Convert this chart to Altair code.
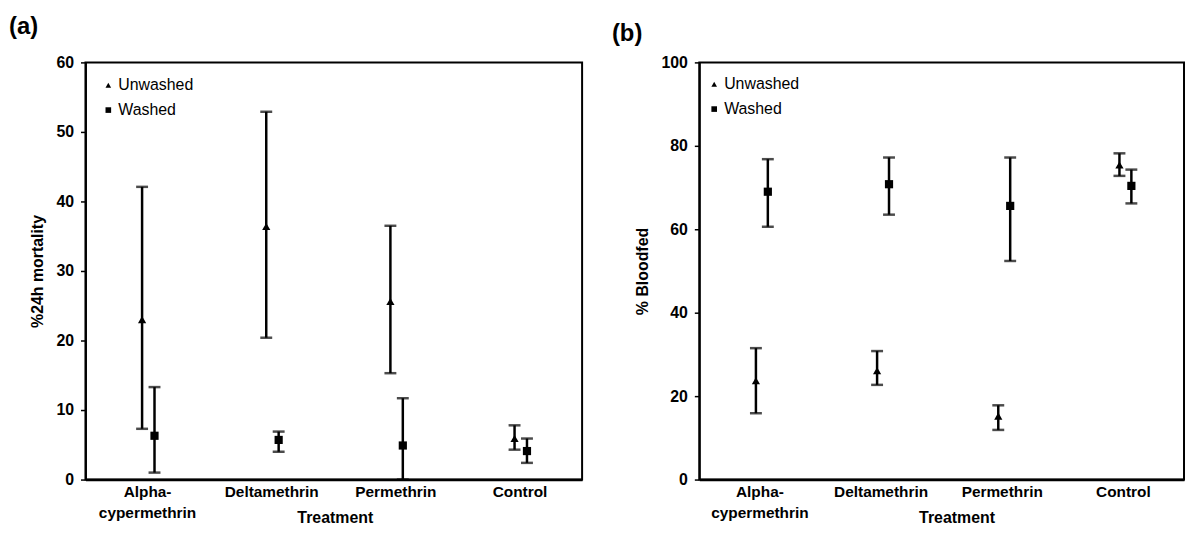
import altair as alt
import pandas as pd

categories = ["Alpha-cypermethrin", "Deltamethrin", "Permethrin", "Control"]
groups = ["Unwashed", "Washed"]

# Panel (a): % 24h mortality
mort_unwashed_mean = [23.0, 36.4, 25.6, 5.9]
mort_unwashed_low = [7.3, 20.4, 15.3, 4.3]
mort_unwashed_high = [42.1, 52.9, 36.5, 7.8]
mort_washed_mean = [6.3, 5.7, 4.9, 4.1]
mort_washed_low = [1.0, 4.0, 0.0, 2.4]
mort_washed_high = [13.3, 6.9, 11.7, 5.9]

# Panel (b): % bloodfed
blood_unwashed_mean = [23.7, 26.1, 15.2, 75.4]
blood_unwashed_low = [15.9, 22.7, 11.9, 72.8]
blood_unwashed_high = [31.5, 30.8, 17.8, 78.2]
blood_washed_mean = [69.0, 70.8, 65.6, 70.4]
blood_washed_low = [60.6, 63.5, 52.4, 66.2]
blood_washed_high = [76.8, 77.2, 77.2, 74.3]

FONT = "Liberation Sans"


def make_df(u_mean, u_low, u_high, w_mean, w_low, w_high):
    rows = []
    for i, c in enumerate(categories):
        rows.append({"treatment": c, "group": "Unwashed", "mean": u_mean[i], "low": u_low[i], "high": u_high[i]})
        rows.append({"treatment": c, "group": "Washed", "mean": w_mean[i], "low": w_low[i], "high": w_high[i]})
    return pd.DataFrame(rows)


def panel(df, ymax, ystep, ytitle, label, width, height, title_dx, title_offset,
          ytitle_x, xtitle_x, xtitle_y, legend_x, legend_y, off_range):
    x = alt.X("treatment:N", sort=categories,
              scale=alt.Scale(paddingInner=0, paddingOuter=0),
              axis=alt.Axis(title="Treatment", labelAngle=0, ticks=False,
                            labelFont=FONT, labelFontSize=15.5, labelFontWeight="bold",
                            labelColor="black", labelPadding=5, labelBaseline="top",
                            labelLineHeight=21,
                            labelExpr="datum.label == 'Alpha-cypermethrin' ? ['Alpha-', 'cypermethrin'] : datum.label",
                            titleFont=FONT, titleFontSize=16, titleFontWeight="bold",
                            titleColor="black", titleX=xtitle_x, titleY=xtitle_y,
                            titleBaseline="alphabetic",
                            domainColor="black", domainWidth=2.5))
    xo = alt.XOffset("group:N", sort=groups,
                     scale=alt.Scale(type="point", range=off_range, padding=0))
    yscale = alt.Scale(domain=[0, ymax], nice=False)
    yaxis = alt.Axis(title=ytitle, values=list(range(0, ymax + 1, ystep)), grid=False,
                     labelFont=FONT, labelFontSize=16, labelFontWeight="bold",
                     labelColor="black", labelPadding=7, tickSize=5, tickWidth=1.5,
                     tickColor="black", domainColor="black", domainWidth=2,
                     titleFont=FONT, titleFontSize=16, titleFontWeight="bold",
                     titleColor="black", titleX=ytitle_x, titleY=height / 2,
                     titleBaseline="middle", titleAlign="center")
    base = alt.Chart(df)
    rule = base.mark_rule(color="black", strokeWidth=2.5).encode(
        x=x, xOffset=xo,
        y=alt.Y("low:Q", scale=yscale, axis=yaxis), y2="high:Q")
    cap_lo = base.mark_tick(color="black", size=12, thickness=2.5).encode(
        x=x, xOffset=xo, y=alt.Y("low:Q", scale=yscale, axis=yaxis))
    cap_hi = base.mark_tick(color="black", size=12, thickness=2.5).encode(
        x=x, xOffset=xo, y=alt.Y("high:Q", scale=yscale, axis=yaxis))
    pts = base.mark_point(filled=True, color="black", opacity=1, size=68).encode(
        x=x, xOffset=xo,
        y=alt.Y("mean:Q", scale=yscale, axis=yaxis),
        shape=alt.Shape("group:N", sort=groups,
                        scale=alt.Scale(domain=groups, range=["triangle-up", "square"]),
                        legend=alt.Legend(title=None, orient="none", legendX=legend_x,
                                          legendY=legend_y, labelFont=FONT,
                                          labelFontSize=16, labelColor="black",
                                          symbolSize=32, symbolFillColor="black",
                                          symbolStrokeColor="black", symbolStrokeWidth=0,
                                          rowPadding=9, labelOffset=2, padding=0)))
    return alt.layer(rule, cap_lo, cap_hi, pts).properties(
        width=width, height=height,
        title=alt.TitleParams(label, anchor="start", frame="group", dx=title_dx,
                              offset=title_offset, font=FONT, fontSize=24,
                              fontWeight="bold", color="black"))


df_a = make_df(mort_unwashed_mean, mort_unwashed_low, mort_unwashed_high,
               mort_washed_mean, mort_washed_low, mort_washed_high)
df_b = make_df(blood_unwashed_mean, blood_unwashed_low, blood_unwashed_high,
               blood_washed_mean, blood_washed_low, blood_washed_high)

chart_a = panel(df_a, 60, 10, "%24h mortality", "(a)", 500, 420, -77, 16,
                -48, 251, 43, 15, 15, [57, 69.5])
chart_b = panel(df_b, 100, 20, "% Bloodfed", "(b)", 488, 420, -88, 9,
                -57, 259, 43, 7, 14, [57, 69])

chart = alt.hconcat(chart_a, chart_b, spacing=28).resolve_scale(
    x="independent", y="independent", xOffset="independent", shape="independent"
).resolve_legend(shape="independent").properties(
    padding={"left": 0, "top": 4, "right": 0, "bottom": 0}
).configure(background="white").configure_view(stroke="black", strokeWidth=2)

chart.save("out.html", embed_options={"renderer": "svg", "actions": False})
